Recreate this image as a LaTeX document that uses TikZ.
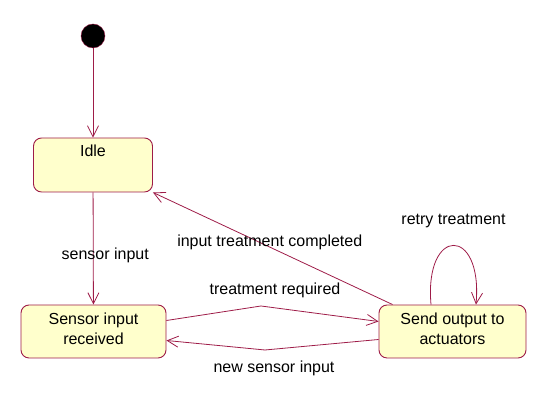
\documentclass[tikz,border=0pt]{standalone}
\usepackage{fontspec}
\setmainfont{Liberation Sans}
\usetikzlibrary{arrows.meta}
\definecolor{umlred}{RGB}{158,28,72}
\definecolor{umlfill}{RGB}{255,255,204}

\begin{document}
\begin{tikzpicture}[
     x = 1pt, y = 1pt,
     >={Straight Barb[length=11pt,width=11pt]},
     every node/.style={font=\fontsize{16}{20}\selectfont},
     state/.style={draw=umlred, fill=umlfill, rounded corners=8pt,
                   line width=0.9pt, align=center, inner sep=4pt},
     trans/.style={->, draw=umlred, line width=0.8pt}
    ]
    \useasboundingbox (0,0) rectangle (550,406);

    % states
    \node[circle, fill=black, draw=umlred, minimum size=24pt, inner sep=0pt] (start) at (93,370) {};
    \node[state, minimum width=119pt, minimum height=54pt,
          text height=15pt, text depth=31pt] (idle) at (93,241) {Idle};
    \node[state, minimum width=145pt, minimum height=53pt, text depth=6pt] (sensor) at (93.5,74.5) {Sensor input\\received};
    \node[state, minimum width=147pt, minimum height=53pt, text depth=6pt] (send) at (452.5,74.5) {Send output to\\actuators};

    \coordinate (reqbend) at (261,100);
    \coordinate (newbend) at (265,56);

    % transitions
    \draw[trans] (start) -- (idle);
    \draw[trans] (idle) -- node[pos=0.56, xshift=12pt] {sensor input} (sensor);
    \draw[trans] ([xshift=14pt]send.north west)
       -- node[pos=0.5, anchor=south, inner sep=2pt, xshift=-3pt, yshift=-4pt] {input treatment completed} (idle.south east);
    \draw[trans] ([yshift=11pt]sensor.east) -- (reqbend)
       node[anchor=south, inner sep=2pt, xshift=14pt, yshift=6pt] {treatment required}
       -- ([yshift=10pt]send.west);
    \draw[trans] ([yshift=-8pt]send.west) -- (newbend)
       node[anchor=north, inner sep=2pt, xshift=9pt, yshift=-9pt] {new sensor input}
       -- ([yshift=-9pt]sensor.east);
    \draw[trans] ([xshift=-21.5pt]send.north) to[out=95, in=85, looseness=4.5]
       node[midway, anchor=south, inner sep=2pt, yshift=15pt] {retry treatment}
       ([xshift=23.5pt]send.north);
   \end{tikzpicture}
\end{document}
